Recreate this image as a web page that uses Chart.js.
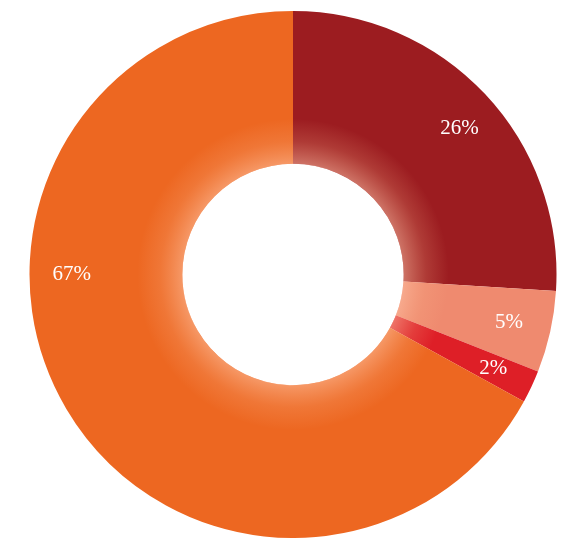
<!DOCTYPE html>
<html>
<head>
<meta charset="utf-8">
<script src="https://cdn.jsdelivr.net/npm/chart.js@4"></script>
<style>
  html, body { margin: 0; padding: 0; background: #fff; }
  #wrap { width: 563px; height: 538px; }
</style>
</head>
<body>
<div id="wrap"><canvas id="myChart" width="563" height="538"></canvas></div>
<script>
// slice data, clockwise from 12 o'clock
var labels = ['A', 'B', 'C', 'D'];
var values = [26, 5, 2, 67];
var valueLabels = ['26%', '5%', '2%', '67%'];
var sliceColors = ['#9c1c20', '#ef8a6f', '#de1f27', '#ed6721'];

// writes the percentages on the slices
var pctLabels = {
  id: 'pctLabels',
  afterDatasetsDraw: function (chart, args, opts) {
    var ctx = chart.ctx;
    var meta = chart.getDatasetMeta(0);
    ctx.save();
    ctx.fillStyle = '#fff';
    ctx.font = '21px "Liberation Serif", "DejaVu Serif", serif';
    ctx.textAlign = 'center';
    ctx.textBaseline = 'middle';
    meta.data.forEach(function (arc, i) {
      var p = arc.getProps(['x', 'y', 'startAngle', 'endAngle', 'outerRadius'], true);
      var a = (p.startAngle + p.endAngle) / 2;
      if (opts.angleOverride && opts.angleOverride[i] != null) a = opts.angleOverride[i];
      var r = p.outerRadius * opts.radiusFrac;
      ctx.fillText(valueLabels[i], p.x + Math.cos(a) * r, p.y + Math.sin(a) * r);
    });
    ctx.restore();
  }
};

// soft lighter ring around the hole
var innerGlow = {
  id: 'innerGlow',
  afterDatasetsDraw: function (chart) {
    var arc = chart.getDatasetMeta(0).data[0];
    var p = arc.getProps(['x', 'y', 'innerRadius', 'outerRadius'], true);
    var ctx = chart.ctx;
    ctx.save();
    var g = ctx.createRadialGradient(p.x, p.y, p.innerRadius, p.x, p.y, p.innerRadius + 45);
    g.addColorStop(0, 'rgba(255,200,170,0.5)');
    g.addColorStop(0.5, 'rgba(250,180,140,0.2)');
    g.addColorStop(1, 'rgba(250,180,140,0)');
    ctx.fillStyle = g;
    ctx.beginPath();
    ctx.arc(p.x, p.y, p.innerRadius + 45, 0, Math.PI * 2);
    ctx.arc(p.x, p.y, p.innerRadius, 0, Math.PI * 2, true);
    ctx.fill();
    ctx.restore();
  }
};

new Chart('myChart', {
  type: 'doughnut',
  data: {
    labels: labels,
    datasets: [{
      data: values,
      backgroundColor: sliceColors,
      borderWidth: 0
    }]
  },
  options: {
    responsive: false,
    animation: false,
    cutout: '42%',
    layout: { padding: { left: 29, right: 6, top: 11, bottom: 0 } },
    plugins: {
      legend: { display: false },
      tooltip: { enabled: false },
      pctLabels: { radiusFrac: 0.84, angleOverride: [-0.72, null, null, Math.PI] }
    }
  },
  plugins: [innerGlow, pctLabels]
});
</script>
</body>
</html>
